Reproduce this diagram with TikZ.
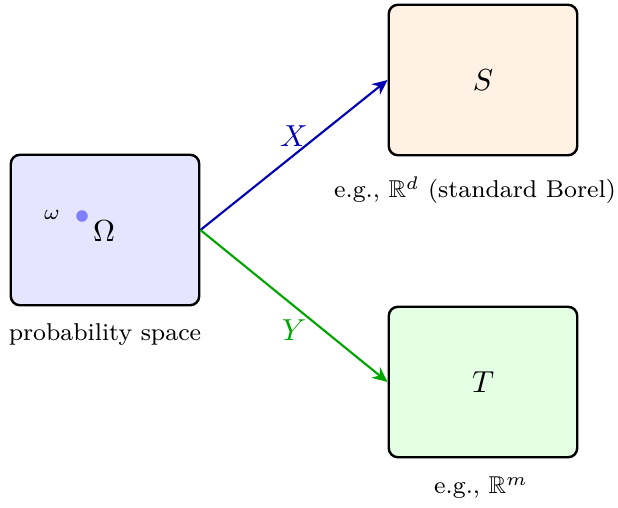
\documentclass[tikz,border=0pt]{standalone}
\usepackage{amssymb}
\usetikzlibrary{arrows.meta}
\begin{document}
\begin{tikzpicture}[x=0.329pt,y=-0.329pt,
  spacebox/.style={draw=black,line width=0.8pt,rounded corners=3pt,minimum width=62pt,minimum height=49.5pt,inner sep=0pt},
  lbl/.style={font=\footnotesize,inner sep=0pt},
  maparrow/.style={line width=0.7pt,-{Stealth[length=5pt,width=4.5pt]}}]
\useasboundingbox (0,0) rectangle (618,507);
\node[spacebox,fill=blue!10] (omega) at (105,230) {};
\node[spacebox,fill=orange!10] (S) at (483,80) {$S$};
\node[spacebox,fill=green!10] (T) at (483,382) {$T$};
\node (Om) at (104,231) {$\Omega$};
\fill[blue!50] (82,216) circle[radius=1.9pt];
\node[font=\scriptsize,inner sep=0pt] (w) at (52,215) {$\omega$};
\node[lbl] (pl) at (105,335) {probability space};
\node[lbl] (sl) at (475,190) {e.g., $\mathbb{R}^d$ (standard Borel)};
\node[lbl] (tl) at (481,488) {e.g., $\mathbb{R}^m$};
\draw[maparrow,blue!70!black] (omega.east) -- node[pos=0.5,yshift=6.3pt,inner sep=0pt,text=blue!70!black] (xl) {$X$} (S.west);
\draw[maparrow,green!65!black] (omega.east) -- node[pos=0.5,yshift=-8pt,inner sep=0pt,text=green!65!black] (yl) {$Y$} (T.west);
\end{tikzpicture}
\end{document}
